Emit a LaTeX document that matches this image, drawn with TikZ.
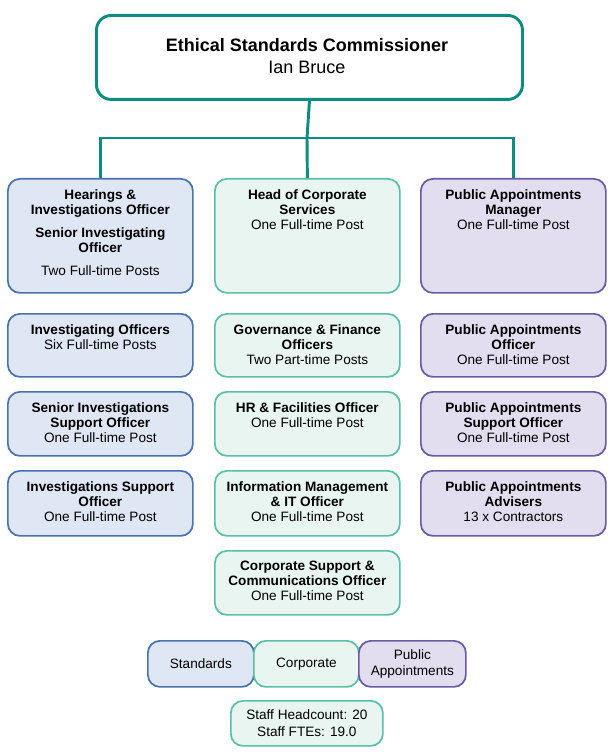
\documentclass[tikz,border=0pt]{standalone}
\usepackage{fontspec}
\setmainfont{Liberation Sans}
\definecolor{bfill}{HTML}{DEE7F3}\definecolor{bdraw}{HTML}{4A72AE}
\definecolor{gfill}{HTML}{E8F5F1}\definecolor{gdraw}{HTML}{5BBFA6}
\definecolor{pfill}{HTML}{E2DEEF}\definecolor{pdraw}{HTML}{6A5BA3}
\definecolor{teal}{HTML}{0F8C80}
\tikzset{
 box/.style={rounded corners=9pt,line width=1.3pt},
 sb/.style={box,fill=bfill,draw=bdraw},
 cb/.style={box,fill=gfill,draw=gdraw},
 pb/.style={box,fill=pfill,draw=pdraw},
 txt/.style={anchor=north,inner sep=0pt,align=center,font=\fontsize{10.2}{11.25}\selectfont},
 conn/.style={draw=teal,line width=2.2pt}
}
\newcommand{\bx}[7]{%
 \node[#6,minimum width={(#4-#2)*0.75pt},minimum height={(#5-#3)*0.75pt},anchor=north west,inner sep=0pt] (#1) at (#2,#3) {};
 \node[txt] (#1t) at ([yshift=-11*0.75pt]#1.north) {#7};}
\begin{document}
\begin{tikzpicture}[x=0.75pt,y=-0.75pt]
\useasboundingbox (0,0) rectangle (613,752);
\node[box,draw=teal,fill=white,line width=2.2pt,minimum width=426*0.75pt,minimum height=84*0.75pt,anchor=north west,inner sep=0pt,rounded corners=11pt] (top) at (95,14) {};
\node[anchor=center,align=center,inner sep=0pt,font=\fontsize{13.5}{16.5}\selectfont] (topt) at (307,56) {\textbf{Ethical Standards Commissioner}\\Ian Bruce};
\bx{a1}{7}{178}{192}{292}{sb}{\textbf{Hearings \&}\\\textbf{Investigations Officer}\\[6pt]\textbf{Senior Investigating}\\\textbf{Officer}\\[6pt]Two Full-time Posts}
\bx{a2}{7}{313}{192}{376}{sb}{\textbf{Investigating Officers}\\Six Full-time Posts}
\bx{a3}{7}{391}{192}{455}{sb}{\textbf{Senior Investigations}\\\textbf{Support Officer}\\One Full-time Post}
\bx{a4}{7}{470}{192}{535}{sb}{\textbf{Investigations Support}\\\textbf{Officer}\\One Full-time Post}
\bx{b1}{214}{178}{399}{292}{cb}{\textbf{Head of Corporate}\\\textbf{Services}\\One Full-time Post}
\bx{b2}{214}{313}{399}{376}{cb}{\textbf{Governance \& Finance}\\\textbf{Officers}\\Two Part-time Posts}
\bx{b3}{214}{391}{399}{455}{cb}{\textbf{HR \& Facilities Officer}\\One Full-time Post}
\bx{b4}{214}{470}{399}{535}{cb}{\textbf{Information Management}\\\textbf{\& IT Officer}\\One Full-time Post}
\bx{b5}{214}{550}{399}{614}{cb}{\textbf{Corporate Support \&}\\\textbf{Communications Officer}\\One Full-time Post}
\bx{c1}{420}{178}{605}{292}{pb}{\textbf{Public Appointments}\\\textbf{Manager}\\One Full-time Post}
\bx{c2}{420}{313}{605}{376}{pb}{\textbf{Public Appointments}\\\textbf{Officer}\\One Full-time Post}
\bx{c3}{420}{391}{605}{455}{pb}{\textbf{Public Appointments}\\\textbf{Support Officer}\\One Full-time Post}
\bx{c4}{420}{470}{605}{535}{pb}{\textbf{Public Appointments}\\\textbf{Advisers}\\13 x Contractors}
\coordinate (j) at (307,138);
\draw[conn] (top.south) -- (j);
\draw[conn] (a1.north) |- (j) -| (c1.north);
\draw[conn] (j) -- (b1.north);
\tikzset{leg/.style={box,rounded corners=6pt,inner sep=0pt,anchor=north west,align=center,font=\fontsize{10.2}{12.5}\selectfont}}
\node[leg,sb,minimum width=106*0.75pt,minimum height=46*0.75pt] (l1) at (147,640) {Standards};
\node[leg,cb,minimum width=105*0.75pt,minimum height=46*0.75pt] (l2) at (253,640) {Corporate};
\node[leg,pb,minimum width=107*0.75pt,minimum height=46*0.75pt] (l3) at (358,640) {Public\\Appointments};
\node[leg,cb,minimum width=152*0.75pt,minimum height=45*0.75pt] (l4) at (230,700) {Staff Headcount: 20\\Staff FTEs: 19.0};
\end{tikzpicture}
\end{document}
